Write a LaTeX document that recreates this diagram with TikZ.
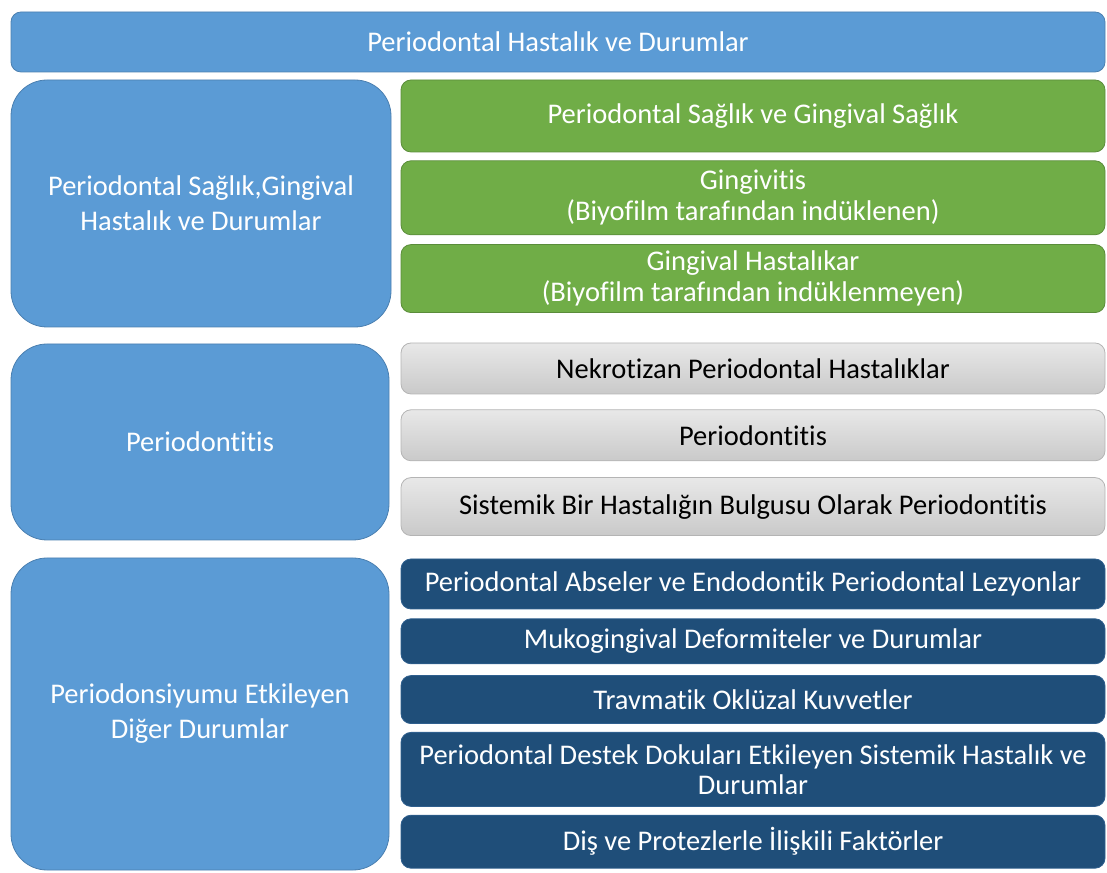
\documentclass[tikz,border=0pt]{standalone}
\usepackage{fontspec}
\setmainfont{Carlito}[Ligatures={NoCommon,NoContextual}]
\usetikzlibrary{positioning}

\definecolor{skyblue}{HTML}{5B9BD5}
\definecolor{skyedge}{HTML}{4A7FB0}
\definecolor{leafgreen}{HTML}{70AD47}
\definecolor{leafedge}{HTML}{5A8C3A}
\definecolor{navyblue}{HTML}{1F4E79}
\definecolor{navyedge}{HTML}{2F5F8E}
\definecolor{greyedge}{HTML}{B4B4B4}

\begin{document}
\begin{tikzpicture}[x=1pt,y=1pt,font=\fontsize{28.5}{35}\selectfont]
\tikzset{
  box/.style={rounded corners=10pt,align=center,inner sep=0pt,line width=0.8pt},
  size/.style 2 args={minimum width=#1pt,minimum height=#2pt},
  headbox/.style={box,fill=skyblue,draw=skyedge,text=white},
  groupbox/.style={headbox,rounded corners=36pt},
  greenbox/.style={box,fill=leafgreen,draw=leafedge,text=white,
    font=\fontsize{28.5}{31}\selectfont,size={704}{#1}},
  greybox/.style={box,top color=black!9,bottom color=black!21,draw=greyedge,text=black,
    font=\fontsize{28.5}{31}\selectfont,size={704}{#1}},
  navybox/.style={box,fill=navyblue,draw=navyedge,text=white,
    font=\fontsize{28.5}{30}\selectfont,size={704}{#1}}
}
\useasboundingbox (0,0) rectangle (1107,872);

% title bar
\node[headbox,size={1094}{60}] (title) at (558,830) {Periodontal Hastalık ve Durumlar};

% left column: the three groups
\node[groupbox,size={380}{247}] (health) at (201,668.5) {Periodontal Sağlık,Gingival\\Hastalık ve Durumlar};
\node[groupbox,size={378}{196}] (perio) at (200,430) {Periodontitis};
\node[groupbox,size={378}{312}] (other) at (200,158) {Periodonsiyumu Etkileyen\\Diğer Durumlar};

% gingival health and disease
\node[greenbox=72] (g1) at (753,756) {Periodontal Sağlık ve Gingival Sağlık};
\node[greenbox=74,below=8pt of g1] (g2) {Gingivitis\\(Biyofilm tarafından indüklenen)};
\node[greenbox=68,below=9pt of g2] (g3) {Gingival Hastalıkar\\(Biyofilm tarafından indüklenmeyen)};

% periodontitis
\node[greybox=51] (p1) at (753,503.5) {Nekrotizan Periodontal Hastalıklar};
\node[greybox=51,below=15pt of p1] (p2) {Periodontitis};
\node[greybox=58,below=16pt of p2] (p3) {Sistemik Bir Hastalığın Bulgusu Olarak Periodontitis};

% other conditions
\node[navybox=50] (o1) at (753,288) {Periodontal Abseler ve Endodontik Periodontal Lezyonlar};
\node[navybox=45,below=9pt of o1] (o2) {Mukogingival Deformiteler ve Durumlar};
\node[navybox=48,below=11pt of o2] (o3) {Travmatik Oklüzal Kuvvetler};
\node[navybox=74,below=8pt of o3] (o4) {Periodontal Destek Dokuları Etkileyen Sistemik Hastalık ve\\Durumlar};
\node[navybox=53,below=8pt of o4] (o5) {Diş ve Protezlerle İlişkili Faktörler};
\end{tikzpicture}
\end{document}
